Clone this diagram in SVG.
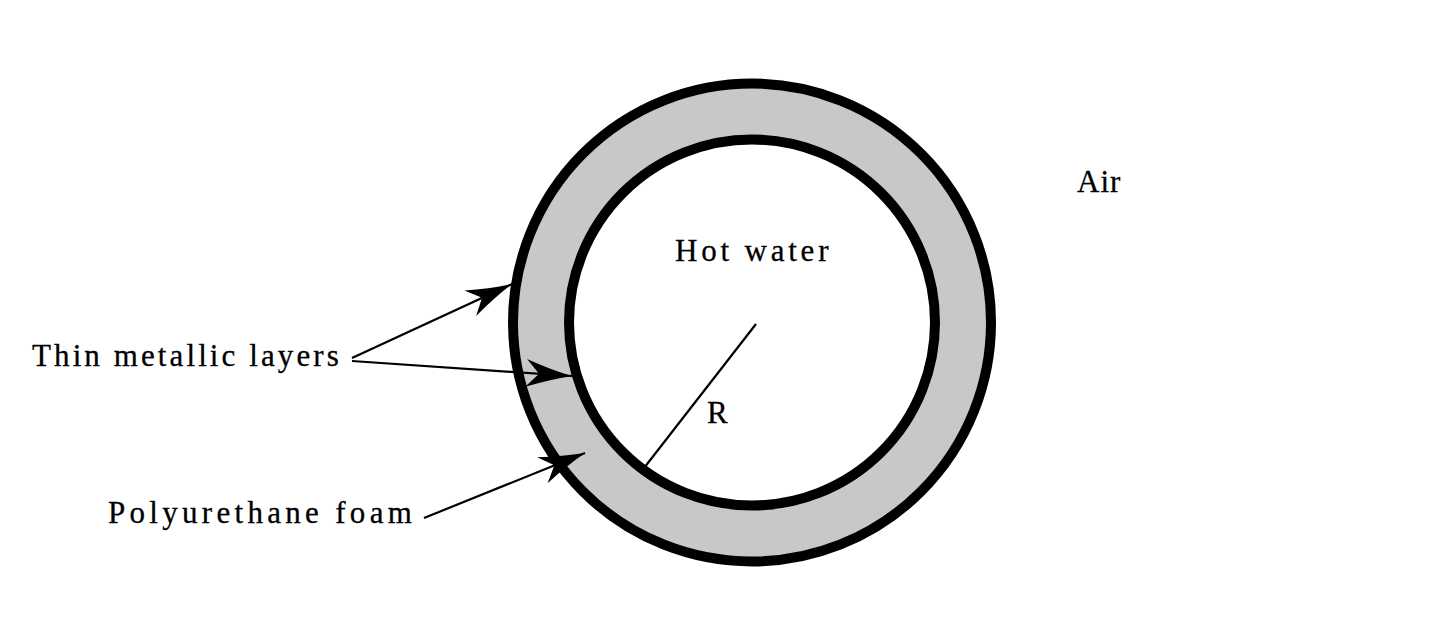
<svg xmlns="http://www.w3.org/2000/svg" width="1432" height="640" viewBox="0 0 1432 640">
  <style>
    .lbl { font-family: "Liberation Serif", "Times New Roman", serif; font-size: 31px; fill: #000; stroke: #000; stroke-width: 0.3; }
    .conn { stroke: #000; stroke-width: 2.2; fill: none; }
  </style>
  <defs>
    <marker id="barb" markerUnits="userSpaceOnUse" markerWidth="60" markerHeight="40" viewBox="-50 -20 60 40" refX="0" refY="0" orient="auto">
      <path d="M0,0 Q-22,-5 -46,-14 L-33,0 L-46,14 Q-22,5 0,0 Z" fill="#000"/>
    </marker>
  </defs>
  <rect width="1432" height="640" fill="#fff"/>

  <g id="pipe">
    <circle cx="752" cy="322.5" r="239" fill="#c8c8c8" stroke="#000" stroke-width="10"/>
    <circle cx="752" cy="322.5" r="183" fill="#fff" stroke="#000" stroke-width="10"/>
  </g>

  <g id="radius">
    <line x1="756" y1="324" x2="644" y2="468" stroke="#000" stroke-width="2.2"/>
    <text class="lbl" x="707" y="423" font-size="30">R</text>
  </g>

  <g id="hot-water">
    <text class="lbl" x="675" y="261" letter-spacing="3.8">Hot water</text>
  </g>

  <g id="air">
    <text class="lbl" x="1077" y="192" letter-spacing="1">Air</text>
  </g>

  <g id="metal-label">
    <text class="lbl" x="32" y="366" letter-spacing="3.1">Thin metallic layers</text>
  </g>

  <g id="foam-label">
    <text class="lbl" x="108" y="523" letter-spacing="4.3">Polyurethane foam</text>
  </g>

  <g id="connectors">
    <line class="conn" x1="352" y1="358" x2="512" y2="284" marker-end="url(#barb)"/>
    <line class="conn" x1="352" y1="361" x2="572" y2="376" marker-end="url(#barb)"/>
    <line class="conn" x1="424" y1="518" x2="585" y2="453" marker-end="url(#barb)"/>
  </g>
</svg>
